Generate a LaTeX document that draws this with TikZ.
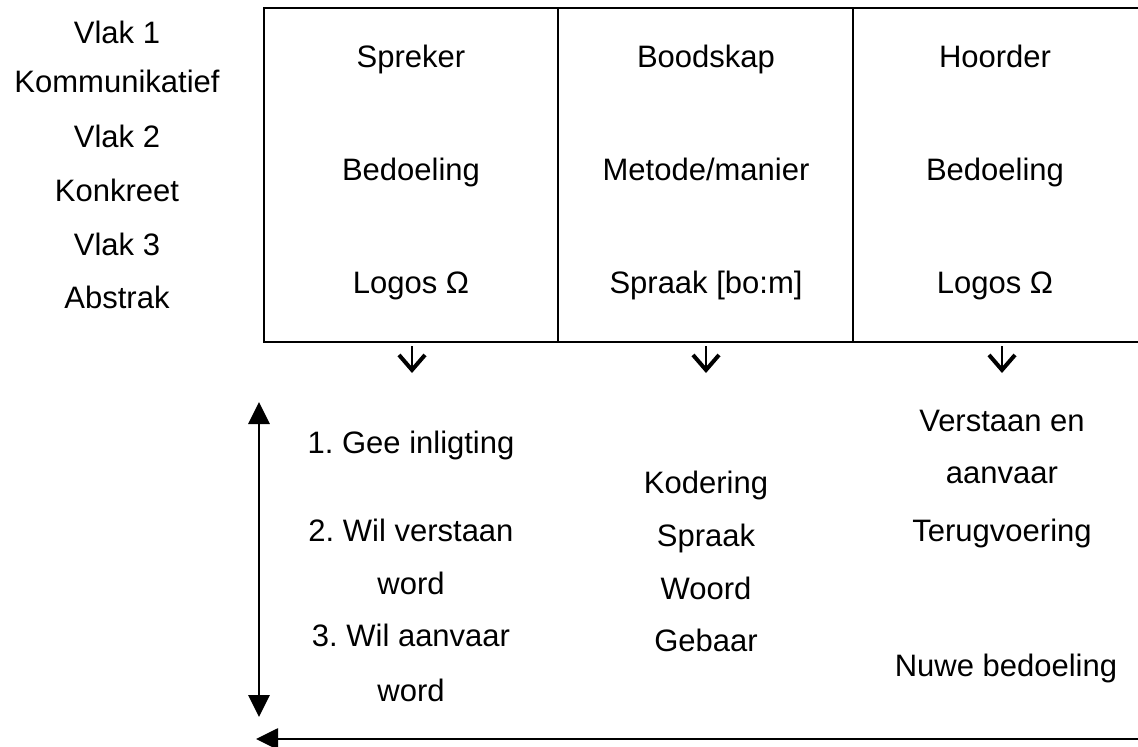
\documentclass[tikz,border=0pt]{standalone}
\usepackage{fontspec}
\setmainfont{Liberation Sans}
\usetikzlibrary{arrows.meta}
\begin{document}
\begin{tikzpicture}[x=1pt,y=-1pt,
  lbl/.style={anchor=base,inner sep=0pt,font=\fontsize{31}{37}\selectfont\frenchspacing},
  frame/.style={line width=2pt},
  downarrow/.style={line width=2.6pt,-{Straight Barb[length=15pt,width=26pt,line width=4pt]}},
  bigarrow/.style={line width=2.8pt},
  tri/.tip={Triangle[length=22pt,width=21pt]}]
\useasboundingbox (0,0) rectangle (1138,747);

% table frame (open on the right)
\draw[frame] (1140,8) -- (264,8) -- (264,342) -- (1140,342);
\draw[frame] (558,8) -- (558,342);
\draw[frame] (853,8) -- (853,342);

% levels
\node[lbl] (v1) at (117,43)  {Vlak 1};
\node[lbl] (k1) at (117,92)  {Kommunikatief};
\node[lbl] (v2) at (117,147) {Vlak 2};
\node[lbl] (k2) at (117,201) {Konkreet};
\node[lbl] (v3) at (117,255) {Vlak 3};
\node[lbl] (k3) at (117,308) {Abstrak};

% table contents
\node[lbl] (spreker)  at (411,67)  {Spreker};
\node[lbl] (bed1)     at (411,180) {Bedoeling};
\node[lbl] (logos1)   at (411,293) {Logos Ω};
\node[lbl] (boodskap) at (706,67)  {Boodskap};
\node[lbl] (metode)   at (706,180) {Metode/manier};
\node[lbl] (spraak1)  at (706,293) {Spraak [bo:m]};
\node[lbl] (hoorder)  at (995,67)  {Hoorder};
\node[lbl] (bed2)     at (995,180) {Bedoeling};
\node[lbl] (logos2)   at (995,293) {Logos Ω};

% down arrows under the columns
\coordinate (a1s) at (412,346); \coordinate (a1e) at (412,373);
\coordinate (a2s) at (706,346); \coordinate (a2e) at (706,373);
\coordinate (a3s) at (1002,346); \coordinate (a3e) at (1002,373);
\draw[downarrow] (a1s) -- (a1e);
\draw[downarrow] (a2s) -- (a2e);
\draw[downarrow] (a3s) -- (a3e);

% speaker column
\node[lbl] (s1) at (411,453) {1. Gee inligting};
\node[lbl] (s2) at (411,541) {2. Wil verstaan};
\node[lbl] (s3) at (411,594) {word};
\node[lbl] (s4) at (411,646) {3. Wil aanvaar};
\node[lbl] (s5) at (411,701) {word};

% message column
\node[lbl] (m1) at (706,493) {Kodering};
\node[lbl] (m2) at (706,546) {Spraak};
\node[lbl] (m3) at (706,599) {Woord};
\node[lbl] (m4) at (706,651) {Gebaar};

% listener column
\node[lbl] (h1) at (1002,431) {Verstaan en};
\node[lbl] (h2) at (1002,483) {aanvaar};
\node[lbl] (h3) at (1002,541) {Terugvoering};
\node[lbl] (h4) at (1006,676) {Nuwe bedoeling};

% vertical double arrow and feedback arrow
\coordinate (vt) at (259,402);
\coordinate (vb) at (259,717);
\draw[bigarrow,{tri}-{tri}] (vt) -- (vb);
\coordinate (fr) at (1140,739);
\coordinate (fl) at (256,739);
\draw[bigarrow,-{tri}] (fr) -- (fl);
\end{tikzpicture}
\end{document}
